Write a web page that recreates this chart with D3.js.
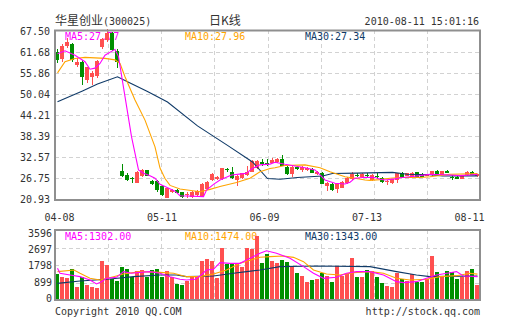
<!DOCTYPE html>
<html><head><meta charset="utf-8">
<script src="https://cdn.jsdelivr.net/npm/d3@7"></script>
<style>body{margin:0;background:#fff}svg{display:block}</style>
</head><body><svg id="c" width="505" height="330"></svg>
<script>
// ---------- data ----------
const stockName = "华星创业", stockCode = "(300025)", chartTitle = "日K线", timestamp = "2010-08-11 15:01:16";
const dateTicks = ["04-08", "05-11", "06-09", "07-13", "08-11"];
const priceTicks = [20.93, 26.75, 32.57, 38.39, 44.21, 50.04, 55.86, 61.68, 67.50];
const volTicks = [0, 899, 1798, 2697, 3596];
const priceMaLabels = ["MA5:27.77", "MA10:27.96", "MA30:27.34"];
const volMaLabels = ["MA5:1302.00", "MA10:1474.00", "MA30:1343.00"];
const copyright = "Copyright 2010 QQ.COM", siteUrl = "http://stock.qq.com";

const open  = [61.8,59.6,63.3,63.9,58.1,59.0,53.9,54.8,55.0,63.2,65.0,66.9,62.0,28.6,27.6,26.8,25.4,27.3,28.9,26.0,26.0,24.6,21.3,22.9,23.4,22.9,22.1,21.6,22.0,21.8,23.7,26.2,26.5,26.5,29.3,28.3,26.2,26.8,27.6,28.5,29.4,31.3,31.0,31.0,31.1,32.0,29.9,27.8,29.7,29.0,29.0,29.2,27.8,28.0,24.6,25.1,23.6,24.1,25.3,26.5,27.7,27.0,27.7,26.1,27.3,26.7,25.6,25.3,26.2,28.0,27.4,27.1,28.3,27.9,27.5,27.6,28.7,27.6,28.7,27.1,27.1,26.5,27.6,28.4,27.2];
const high  = [62.6,64.0,65.5,64.3,60.0,59.5,57.6,56.3,59.5,65.5,68.0,67.2,62.5,30.6,28.0,27.1,28.6,29.2,29.0,26.3,26.2,24.8,24.1,23.6,23.6,23.0,22.8,23.1,23.3,25.3,25.8,28.0,27.3,29.6,29.6,29.9,27.6,28.2,30.2,31.7,31.7,32.0,32.0,32.2,32.2,33.1,30.2,30.0,30.0,30.0,29.8,29.5,28.7,28.3,25.6,25.3,25.5,25.8,26.9,28.3,28.0,28.2,28.2,27.9,28.0,26.9,26.1,26.6,28.1,28.4,28.2,28.4,28.5,28.0,27.9,28.8,28.9,28.8,29.0,27.6,27.3,27.7,28.6,28.7,27.9];
const low   = [58.6,59.0,62.8,58.8,57.5,52.5,53.0,52.5,54.5,62.5,64.5,62.0,57.3,27.0,26.0,25.5,25.3,27.0,27.2,24.9,23.0,21.8,21.1,22.5,22.5,21.3,21.2,21.3,21.5,21.5,23.3,26.0,26.3,26.3,28.5,26.6,24.5,26.5,27.4,28.3,29.2,30.0,30.2,30.8,30.9,30.0,27.5,27.0,29.0,28.3,28.8,28.0,27.6,25.0,23.2,23.2,22.7,23.9,25.1,26.3,26.9,26.8,26.9,25.9,26.6,25.5,24.9,25.1,25.5,26.9,27.2,26.9,26.9,26.9,27.3,27.4,27.8,27.5,28.0,26.2,26.4,26.4,27.4,27.5,27.0];
const close = [59.5,63.3,64.4,59.5,59.0,54.8,57.6,55.9,59.3,65.2,67.0,62.2,59.0,27.4,26.2,26.6,28.5,28.9,27.4,25.1,23.4,22.0,23.9,23.4,22.7,21.6,22.3,22.9,23.1,25.0,25.6,27.8,27.1,29.4,29.1,26.8,27.4,28.0,28.5,31.5,31.5,30.6,30.4,31.8,31.9,30.2,27.8,29.9,29.2,29.7,29.6,28.1,28.5,25.2,25.4,23.4,25.3,25.6,26.7,27.8,27.4,27.8,27.5,27.6,26.9,25.7,25.8,26.4,28.0,27.1,28.0,28.2,27.1,27.1,27.6,28.7,27.9,28.7,28.1,26.9,26.5,27.6,28.5,27.6,27.8];
const volume = [1336,1165,1113,1575,651,1165,753,651,599,2003,1798,1062,976,1678,1575,1199,1490,1541,1199,1541,1575,1199,1490,1199,822,771,976,1165,1165,2003,2106,2003,1147,2688,1832,1832,1884,1713,2688,2620,3305,1918,2363,2020,1918,2055,1970,1764,1404,1250,942,1027,1079,1404,1250,942,1747,1250,1336,2175,1199,1199,1541,1490,1165,856,736,685,1370,1062,976,1319,942,908,1079,2277,1456,1233,1507,1456,1062,1199,1507,1575,771];

// moving-average lines as [day index, value]
const ma5 = [[0,61.2],[1.5,62.0],[3.5,60.8],[5.5,59.0],[6.5,56.9],[7.5,57.2],[8.5,58.5],[9.5,60.8],[11.5,62.4],[12.2,60.4],[13.5,49.3],[14.8,38.2],[16.2,29.0],[17.2,28.05],[18.5,27.4],[19.5,26.7],[20.5,25.0],[21.5,24.4],[23.5,23.1],[24.5,21.85],[29.2,21.6],[29.8,23.4],[31.2,25.0],[32.5,26.2],[34.8,27.6],[36.8,27.9],[37.8,28.05],[38.8,29.25],[40.5,30.4],[42.5,30.6],[43.5,31.1],[45.5,30.55],[47.5,30.1],[49.5,29.6],[51.5,29.0],[52.5,27.6],[53.5,26.2],[55.5,25.3],[57.5,25.1],[58.5,25.6],[59.5,26.7],[61.5,26.95],[63.5,26.9],[64.5,26.4],[65.5,26.2],[67.5,26.5],[68.5,26.8],[70.5,27.1],[72.5,27.4],[74.5,27.8],[78.5,27.6],[80.5,27.4],[82.5,27.6],[84,27.77]];
const ma10 = [[0,55.9],[1.5,59.0],[3.5,59.9],[5.5,60.2],[9.5,59.9],[11.5,59.5],[12.5,58.5],[13.5,54.8],[15.5,48.4],[17.5,42.8],[19.5,35.4],[20.5,29.5],[21.5,26.6],[22.5,24.7],[24.5,23.7],[28.5,22.95],[30.5,23.6],[32.5,24.4],[35.8,25.5],[38.5,26.7],[40.5,28.5],[42.5,29.4],[43.5,29.6],[45.5,30.2],[49.5,30.4],[52.5,29.6],[54.5,28.5],[57.5,27.1],[59.5,26.7],[61.5,26.2],[62.5,26.1],[64.5,26.3],[66.5,26.7],[68.5,26.9],[72.5,26.9],[74.5,27.1],[78.5,27.8],[82.5,27.9],[84,27.96]];
const ma30 = [[0,47.9],[5,50.9],[8,52.8],[12,54.8],[14,53.4],[18,50.7],[22,47.8],[28,41.2],[34,35.8],[39,31.2],[42,26.6],[44.5,26.4],[48,26.9],[53,27.3],[55,28.0],[60,28.1],[67,28.3],[70,27.8],[74,27.7],[77,27.3],[84,27.34]];
const volMa5 = [[0,1630],[0.5,1371],[2.5,1284],[4.5,1199],[6.5,1027],[7.8,822],[8.8,942],[9.8,1113],[11.8,1165],[13.2,1456],[14.8,1371],[16.5,1421],[18.5,1456],[20.5,1371],[22.5,1199],[24.5,1062],[25.8,1027],[27.5,1062],[28.5,1233],[29.8,1541],[31.2,1575],[32.5,1918],[34.5,1884],[36.5,1884],[38.5,2140],[40.5,2400],[41.8,2532],[43.8,2400],[46.5,2140],[49.2,1713],[51.2,1371],[53.2,1113],[55.8,1165],[57.8,1371],[59.8,1456],[62.5,1456],[65.2,1284],[67.8,942],[69.2,891],[71.8,942],[73.8,1113],[75.8,1284],[78.5,1404],[79.8,1456],[81.2,1233],[84,1200]];
const volMa10 = [[0,1456],[3.3,1541],[4.5,1371],[6.5,1113],[8.5,1027],[11.2,1199],[13.2,1336],[16.5,1456],[20.5,1421],[23.2,1371],[25.8,1199],[28.5,1199],[31.2,1336],[33.8,1541],[36.5,1884],[39.2,2090],[40.5,2200],[42.5,2226],[45.2,2260],[47.2,2192],[49.2,1970],[51.2,1541],[53.8,1336],[56.5,1284],[59.2,1404],[62.5,1456],[65.2,1371],[67.8,1113],[70.5,1027],[73.8,1062],[76.5,1199],[79.8,1250],[82.5,1371],[84,1330]];
const volMa30 = [[0,856],[4.5,976],[10.5,1079],[15.2,1199],[20.5,1284],[23.8,1284],[25.8,1199],[31.2,1233],[35.2,1371],[37.8,1456],[40.5,1541],[44.5,1713],[51.8,1747],[62.5,1713],[67.8,1456],[71.8,1284],[74.5,1199],[84,1233]];

// ---------- drawing ----------
const svg = d3.select("#c");
const L = 55, R = 480, PT = 31, PB = 200, VT = 230, VB = 300;
const UP = "#ff5050", DOWN = "#008f00", C5 = "#ff00ff", C10 = "#ffa500", C30 = "#0f3a68";
const MONO = "DejaVu Sans Mono, monospace", CJK = "Noto Sans CJK SC, sans-serif";

const n = close.length;
const x = d3.scaleBand().domain(d3.range(n)).range([L, R]).paddingInner(0.2).paddingOuter(0.1).align(0);
const bw = x.bandwidth();
const xc = d3.scaleLinear().domain([0, n - 1]).range([x(0) + bw / 2 + 0.5, x(n - 1) + bw / 2 + 0.5]);
const y = d3.scaleLinear().domain([20.93, 67.5]).range([199, 31]);
const yv = d3.scaleLinear().domain([0, 3596]).range([VB, VT]);
const yvLabel = d3.scaleLinear().domain([0, 3596]).range([297.6, 233.3]);
const gx = d3.scaleLinear().domain([0, 8]).range([L, R]);
const xDate = d3.scalePoint().domain(dateTicks).range([59.5, 469.5]);

svg.append("rect").attr("width", 505).attr("height", 330).attr("fill", "#fff");

// grid
const grid = svg.append("g").attr("stroke", "#d2d2d2").attr("stroke-dasharray", "4,3").attr("shape-rendering", "crispEdges");
d3.range(1, 8).forEach(k => {
  const gxv = Math.round(gx(k)) + 0.5;
  grid.append("line").attr("x1", gxv).attr("x2", gxv).attr("y1", 30).attr("y2", PB);
  grid.append("line").attr("x1", gxv).attr("x2", gxv).attr("y1", VT).attr("y2", VB);
});
priceTicks.slice(1, -1).forEach(t => {
  const yy = Math.round(y(t)) + 0.5;
  grid.append("line").attr("x1", L).attr("x2", R).attr("y1", yy).attr("y2", yy);
});
volTicks.slice(1, -1).forEach(t => {
  const yy = Math.round(yv(t)) + 0.5;
  grid.append("line").attr("x1", L).attr("x2", R).attr("y1", yy).attr("y2", yy);
});

// texts
const txt = (s, xx, yy, fill, anchor, size, fam) => svg.append("text").attr("x", xx).attr("y", yy)
  .attr("fill", fill).attr("text-anchor", anchor || "start").attr("font-size", size || 10)
  .attr("font-family", fam || MONO).text(s);

const h = svg.append("text").attr("x", L).attr("y", 25).attr("fill", "#333");
h.append("tspan").attr("font-family", CJK).attr("font-size", 12).text(stockName);
h.append("tspan").attr("font-family", MONO).attr("font-size", 10).text(stockCode);
txt(chartTitle, 225, 25, "#333", "middle", 12, CJK);
txt(timestamp, 479, 25, "#333", "end");

priceTicks.forEach(t => txt(t.toFixed(2), 50, y(t) + 4, "#333", "end"));
volTicks.forEach(t => txt(String(t), 52, yvLabel(t) + 4, "#333", "end"));
dateTicks.forEach(d => txt(d, xDate(d), 220.5, "#333", "middle"));

[C5, C10, C30].forEach((c, k) => {
  txt(priceMaLabels[k], 65 + 120 * k, 40, c);
  txt(volMaLabels[k], 65 + 120 * k, 240, c);
});
txt(copyright, L, 315, "#333");
txt(siteUrl, R, 315, "#333", "end");

// candles
const cg = svg.append("g").attr("shape-rendering", "crispEdges");
d3.range(n).forEach(i => {
  const up = close[i] >= open[i];
  const col = up ? UP : DOWN;
  const cx = x(i) + Math.floor(bw / 2) + 0.5;
  cg.append("line").attr("x1", cx).attr("x2", cx).attr("y1", y(high[i])).attr("y2", y(low[i])).attr("stroke", col);
  const top = y(Math.max(open[i], close[i])), bot = y(Math.min(open[i], close[i]));
  cg.append("rect").attr("x", x(i)).attr("width", bw).attr("y", top).attr("height", Math.max(1, bot - top)).attr("fill", col);
});

// volume bars
const vg = svg.append("g").attr("shape-rendering", "crispEdges");
d3.range(n).forEach(i => {
  vg.append("rect").attr("x", x(i)).attr("width", bw).attr("y", yv(volume[i]))
    .attr("height", VB - yv(volume[i])).attr("fill", close[i] >= open[i] ? UP : DOWN);
});

// MA lines
const lineP = d3.line().x(d => xc(d[0])).y(d => y(d[1]));
const lineV = d3.line().x(d => xc(d[0])).y(d => yv(d[1]));
[[ma30, C30], [ma10, C10], [ma5, C5]].forEach(([d, c]) =>
  svg.append("path").attr("d", lineP(d)).attr("fill", "none").attr("stroke", c).attr("stroke-width", 1.1));
[[volMa30, C30], [volMa10, C10], [volMa5, C5]].forEach(([d, c]) =>
  svg.append("path").attr("d", lineV(d)).attr("fill", "none").attr("stroke", c).attr("stroke-width", 1.1));

// panel frames
[[PT - 0.5, PB], [VT, VB]].forEach(([t, b]) =>
  svg.append("rect").attr("x", L).attr("y", t).attr("width", R - L).attr("height", b - t)
    .attr("fill", "none").attr("stroke", "#8f8f8f").attr("stroke-width", 2));
</script></body></html>
